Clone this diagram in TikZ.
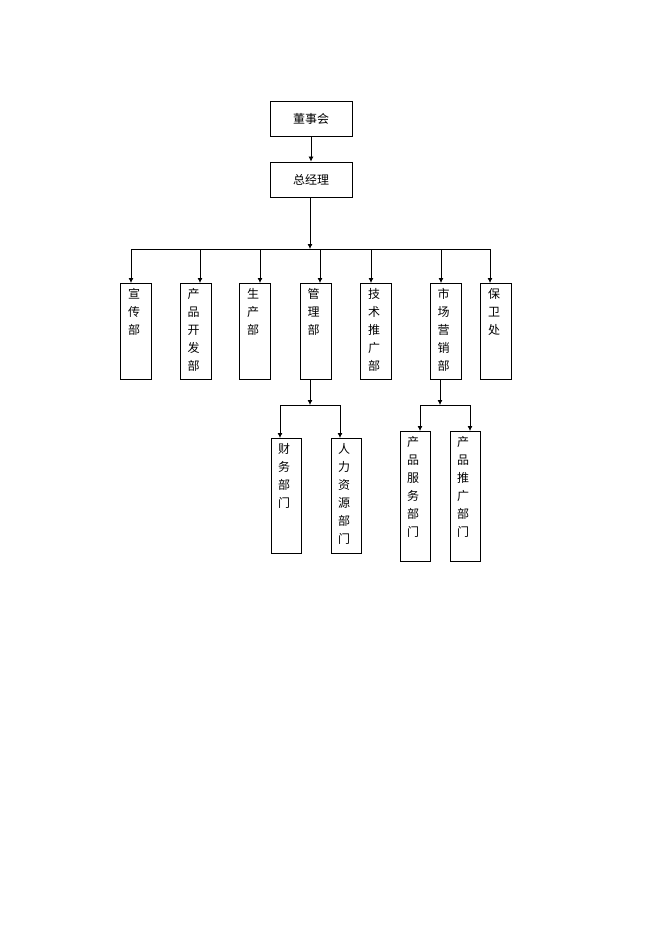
\documentclass[tikz,border=0pt]{standalone}
\usepackage{fontspec}
\setmainfont{Noto Sans CJK SC}
\usetikzlibrary{arrows.meta}
\tikzset{
  box/.style={draw,thick,rectangle,inner sep=0pt},
  vtext/.style={anchor=north,align=center,font=\fontsize{12}{18}\selectfont,inner sep=0pt},
  arr/.style={-{Latex[length=5pt,width=5pt]},thick}
}
\begin{document}
\begin{tikzpicture}[x=1pt,y=-1pt]
    \useasboundingbox (0,0) rectangle (662,936);
    % Top
    \node[box,minimum width=82pt,minimum height=35pt,font=\fontsize{12}{14}\selectfont] (board) at (311,118.5) {董事会};
    \node[box,minimum width=82pt,minimum height=35pt,font=\fontsize{12}{14}\selectfont] (gm) at (311,179.5) {总经理};
    \draw[arr] (board) -- (gm);

    % Departments
    \foreach \n/\x/\ax/\t in {xc/136/131/{宣\\传\\部}, cp/195.5/200/{产\\品\\开\\发\\部}, sc/255/260/{生\\产\\部},
        gl/315.5/320/{管\\理\\部}, js/376/371/{技\\术\\推\\广\\部}, sy/445.5/441/{市\\场\\营\\销\\部}, bw/496/490/{保\\卫\\处}} {
      \node[box,minimum width=31pt,minimum height=96pt] (\n) at (\x,331) {};
      \node[vtext] (\n-t) at ([xshift=-2pt,yshift=-6pt]\n.north) {\t};
      \coordinate (\n-in) at (\ax,249);
      \draw[arr] (\n-in) -- (\ax,283);
    }
    \draw[thick] (xc-in) -- (bw-in);
    \coordinate (bus) at (310,249);
    \draw[arr] (gm.south -| bus) -- (bus);

    % Management branch
    \node[box,minimum width=30pt,minimum height=115pt] (cw) at (286,495.5) {};
    \node[vtext] (cw-t) at ([xshift=-2pt,yshift=-6pt]cw.north) {财\\务\\部\\门};
    \node[box,minimum width=30pt,minimum height=115pt] (rl) at (346,495.5) {};
    \node[vtext] (rl-t) at ([xshift=-2pt,yshift=-6pt]rl.north) {人\\力\\资\\源\\部\\门};
    \coordinate (gl-bus) at (310,405);
    \draw[arr] (gl.south -| gl-bus) -- (gl-bus);
    \draw[thick] (280,405) -- (340,405);
    \draw[arr] (280,405) -- (280,438);
    \draw[arr] (340,405) -- (340,438);

    % Marketing branch
    \node[box,minimum width=30pt,minimum height=130pt] (fw) at (415,496) {};
    \node[vtext] (fw-t) at ([xshift=-2pt,yshift=-6pt]fw.north) {产\\品\\服\\务\\部\\门};
    \node[box,minimum width=30pt,minimum height=130pt] (tg) at (465,496) {};
    \node[vtext] (tg-t) at ([xshift=-2pt,yshift=-6pt]tg.north) {产\\品\\推\\广\\部\\门};
    \coordinate (sy-bus) at (440,405);
    \draw[arr] (sy.south -| sy-bus) -- (sy-bus);
    \draw[thick] (420,405) -- (470,405);
    \draw[arr] (420,405) -- (420,431);
    \draw[arr] (470,405) -- (470,431);
\end{tikzpicture}
\end{document}
